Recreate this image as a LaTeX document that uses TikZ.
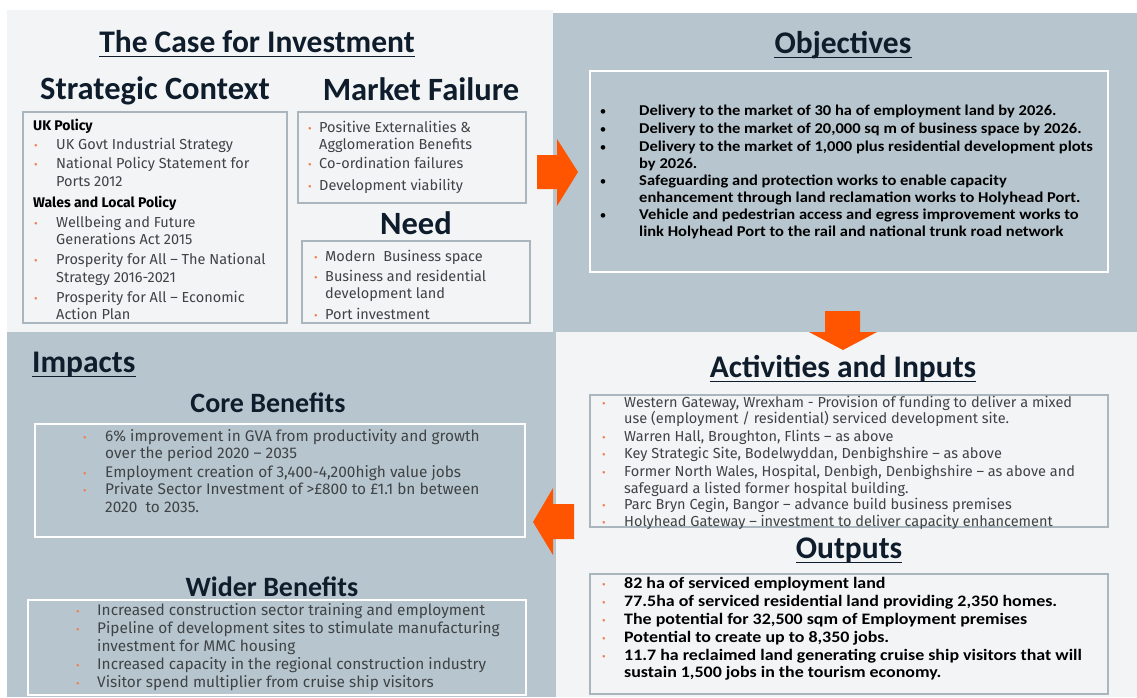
\documentclass[tikz,border=0pt]{standalone}
\usepackage{fontspec}
\setmainfont{Carlito}
\newfontfamily\bodyf{Fira Sans}
\newfontfamily\objf[FakeStretch=1.10]{Carlito}
\newfontfamily\outf[FakeStretch=1.12]{Carlito}
\definecolor{lightp}{HTML}{F2F4F5}
\definecolor{grayp}{HTML}{B7C6CE}
\definecolor{boxline}{HTML}{A9B6BD}
\definecolor{navy}{HTML}{0E1C2B}
\definecolor{bodytxt}{HTML}{404346}
\definecolor{orangeA}{HTML}{FF5500}
\definecolor{bulor}{HTML}{F07F4F}
\newcommand\ulin[1]{\draw[ul] ([yshift=-4pt]#1.base west) -- ([yshift=-4pt]#1.base east);}
\begin{document}
\begin{tikzpicture}[x=1pt,y=-1pt,
  ttl/.style={font=\bfseries\fontsize{31.5}{34}\selectfont, text=navy, inner sep=0, anchor=mid, yshift=-8pt},
  sub/.style={font=\bfseries\fontsize{32.5}{36}\selectfont, text=navy, inner sep=0, anchor=mid, yshift=-9pt},
  ben/.style={font=\bfseries\fontsize{28}{30}\selectfont, text=navy, inner sep=0, anchor=mid, yshift=-7pt},
  ul/.style={draw=navy, line width=1.6pt},
  gbox/.style={draw=boxline, line width=1.5pt},
  wbox/.style={draw=white, line width=1.5pt},
  txt/.style={inner sep=0, anchor=mid west, text=bodytxt, font=\bodyf\fontsize{14.5}{16}\selectfont, yshift=-3pt},
  itxt/.style={txt, font=\bodyf\fontsize{15.4}{17}\selectfont},
  txtb/.style={txt, font=\bodyf\bfseries\fontsize{14}{16}\selectfont, text=black},
  bull/.style={inner sep=0, anchor=mid, text=bulor, font=\bodyf\fontsize{11}{12}\selectfont, yshift=-3pt},
  bullk/.style={inner sep=0, anchor=mid, text=black, font=\fontsize{13}{14}\selectfont, yshift=-3pt},
  otxt/.style={inner sep=0, anchor=mid west, text=black, font=\objf\bfseries\fontsize{15}{17}\selectfont, yshift=-3pt},
  outxt/.style={inner sep=0, anchor=mid west, text=black, font=\outf\bfseries\fontsize{16}{18}\selectfont, yshift=-3pt},
  arr/.style={fill=orangeA},
]
\useasboundingbox (0,0) rectangle (1137,697);
\fill[white] (0,0) rectangle (1137,697);
% panels
\fill[lightp] (7,10) rectangle (553,332);
\fill[grayp] (553,13) rectangle (1137,332);
\fill[grayp] (7,332) rectangle (556,697);
\fill[lightp] (556,332) rectangle (1137,697);

% ---------- top left ----------
\node[ttl] (case) at (257,42) {The Case for Investment};
\ulin{case}
\node[sub] (sc) at (155,88) {Strategic Context};
\node[sub] (mf) at (421,89) {Market Failure};
\node[sub] (need) at (416,223) {Need};
\draw[gbox] (23,112) rectangle (287,323);
\draw[gbox] (298,112) rectangle (526,203);
\draw[gbox] (302,241) rectangle (530,323);

\node[txtb] (sch1) at (33,125) {UK Policy};
\node[bull] (scb1) at (36,144) {•};
\node[txt] (sct1) at (56,144) {UK Govt Industrial Strategy};
\node[bull] (scb2) at (36,163) {•};
\node[txt] (sct2) at (56,163) {National Policy Statement for};
\node[txt] (sct3) at (56,181) {Ports 2012};
\node[txtb] (sch2) at (33,202) {Wales and Local Policy};
\node[bull] (scb3) at (36,222) {•};
\node[txt] (sct4) at (56,222) {Wellbeing and Future};
\node[txt] (sct5) at (56,239) {Generations Act 2015};
\node[bull] (scb4) at (36,259) {•};
\node[txt] (sct6) at (56,259) {Prosperity for All – The National};
\node[txt] (sct7) at (56,277) {Strategy 2016-2021};
\node[bull] (scb5) at (36,297) {•};
\node[txt] (sct8) at (56,297) {Prosperity for All – Economic};
\node[txt] (sct9) at (56,314) {Action Plan};

\node[bull] (mfb1) at (310,127) {•};
\node[txt] (mft1) at (319,127) {Positive Externalities \&};
\node[txt] (mft2) at (319,144) {Agglomeration Benefits};
\node[bull] (mfb2) at (310,163) {•};
\node[txt] (mft3) at (319,163) {Co-ordination failures};
\node[bull] (mfb3) at (310,185) {•};
\node[txt] (mft4) at (319,185) {Development viability};

\node[bull] (ndb1) at (316,256) {•};
\node[txt] (ndt1) at (325,256) {Modern\ \ Business space};
\node[bull] (ndb2) at (316,276) {•};
\node[txt] (ndt2) at (325,276) {Business and residential};
\node[txt] (ndt3) at (325,293) {development land};
\node[bull] (ndb3) at (316,314) {•};
\node[txt] (ndt4) at (325,314) {Port investment};

% ---------- top right ----------
\node[ttl] (obj) at (843,43) {Objectives};
\ulin{obj}
\draw[wbox] (590,71) rectangle (1108,272);
\node[bullk] (obb1) at (603,110) {•};
\node[otxt] (obt1) at (639,110) {Delivery to the market of 30 ha of employment land by 2026.};
\node[bullk] (obb2) at (603,128) {•};
\node[otxt] (obt2) at (639,128) {Delivery to the market of 20,000 sq m of business space by 2026.};
\node[bullk] (obb3) at (603,146) {•};
\node[otxt] (obt3) at (639,146) {Delivery to the market of 1,000 plus residential development plots};
\node[otxt] (obt4) at (639,163) {by 2026.};
\node[bullk] (obb4) at (603,180) {•};
\node[otxt] (obt5) at (639,180) {Safeguarding and protection works to enable capacity};
\node[otxt] (obt6) at (639,197) {enhancement through land reclamation works to Holyhead Port.};
\node[bullk] (obb5) at (603,214) {•};
\node[otxt] (obt7) at (639,214) {Vehicle and pedestrian access and egress improvement works to};
\node[otxt] (obt8) at (639,231) {link Holyhead Port to the rail and national trunk road network};

% ---------- arrows ----------
\fill[arr] (537,155) -- (557,155) -- (557,139) -- (578,172) -- (557,206) -- (557,189) -- (537,189) -- cycle;
\fill[arr] (825,311) -- (860,311) -- (860,332) -- (877,332) -- (843,350) -- (809,332) -- (825,332) -- cycle;
\fill[arr] (574,504) -- (553,504) -- (553,488) -- (533,522) -- (553,555) -- (553,539) -- (574,539) -- cycle;

% ---------- bottom left ----------
\node[ttl, anchor=mid west] (imp) at (32,362) {Impacts};
\ulin{imp}
\node[ben] (core) at (268,403) {Core Benefits};
\draw[wbox] (35,424) rectangle (525,537);
\node[bull] (cbb1) at (85,436) {•};
\node[itxt] (cbt1) at (105,436) {6\% improvement in GVA from productivity and growth};
\node[itxt] (cbt2) at (105,453) {over the period 2020 – 2035};
\node[bull] (cbb2) at (85,472) {•};
\node[itxt] (cbt3) at (105,472) {Employment creation of 3,400-4,200high value jobs};
\node[bull] (cbb3) at (85,489) {•};
\node[itxt] (cbt4) at (105,489) {Private Sector Investment of >£800 to £1.1 bn between};
\node[itxt] (cbt5) at (105,507) {2020\ \ to 2035.};

\node[ben] (wider) at (272,587) {Wider Benefits};
\draw[wbox] (28,600) rectangle (526,695);
\node[bull] (wbb1) at (78,610) {•};
\node[itxt] (wbt1) at (97,610) {Increased construction sector training and employment};
\node[bull] (wbb2) at (78,628) {•};
\node[itxt] (wbt2) at (97,628) {Pipeline of development sites to stimulate manufacturing};
\node[itxt] (wbt3) at (97,646) {investment for MMC housing};
\node[bull] (wbb3) at (78,664) {•};
\node[itxt] (wbt4) at (97,664) {Increased capacity in the regional construction industry};
\node[bull] (wbb4) at (78,682) {•};
\node[itxt] (wbt5) at (97,682) {Visitor spend multiplier from cruise ship visitors};

% ---------- bottom right ----------
\node[ttl] (act) at (843,367) {Activities and Inputs};
\ulin{act}
\draw[gbox] (590,395) rectangle (1108,527);
\node[bull] (acb1) at (604,402) {•};
\node[txt] (act1) at (624,402) {Western Gateway, Wrexham - Provision of funding to deliver a mixed};
\node[txt] (act2) at (624,418) {use (employment / residential) serviced development site.};
\node[bull] (acb2) at (604,436) {•};
\node[txt] (act3) at (624,436) {Warren Hall, Broughton, Flints – as above};
\node[bull] (acb3) at (604,453) {•};
\node[txt] (act4) at (624,453) {Key Strategic Site, Bodelwyddan, Denbighshire – as above};
\node[bull] (acb4) at (604,471) {•};
\node[txt] (act5) at (624,471) {Former North Wales, Hospital, Denbigh, Denbighshire – as above and};
\node[txt] (act6) at (624,488) {safeguard a listed former hospital building.};
\node[bull] (acb5) at (604,504) {•};
\node[txt] (act7) at (624,504) {Parc Bryn Cegin, Bangor – advance build business premises};
\node[bull] (acb6) at (604,521) {•};
\node[txt] (act8) at (624,521) {Holyhead Gateway – investment to deliver capacity enhancement};

\node[ttl] (out) at (849,548) {Outputs};
\ulin{out}
\draw[gbox] (590,574) rectangle (1108,694);
\node[bull] (oub1) at (604,583) {•};
\node[outxt] (out1) at (624,583) {82 ha of serviced employment land};
\node[bull] (oub2) at (604,601) {•};
\node[outxt] (out2) at (624,601) {77.5ha of serviced residential land providing 2,350 homes.};
\node[bull] (oub3) at (604,619) {•};
\node[outxt] (out3) at (624,619) {The potential for 32,500 sqm of Employment premises};
\node[bull] (oub4) at (604,637) {•};
\node[outxt] (out4) at (624,637) {Potential to create up to 8,350 jobs.};
\node[bull] (oub5) at (604,655) {•};
\node[outxt] (out5) at (624,655) {11.7 ha reclaimed land generating cruise ship visitors that will};
\node[outxt] (out6) at (624,672) {sustain 1,500 jobs in the tourism economy.};
\end{tikzpicture}
\end{document}
